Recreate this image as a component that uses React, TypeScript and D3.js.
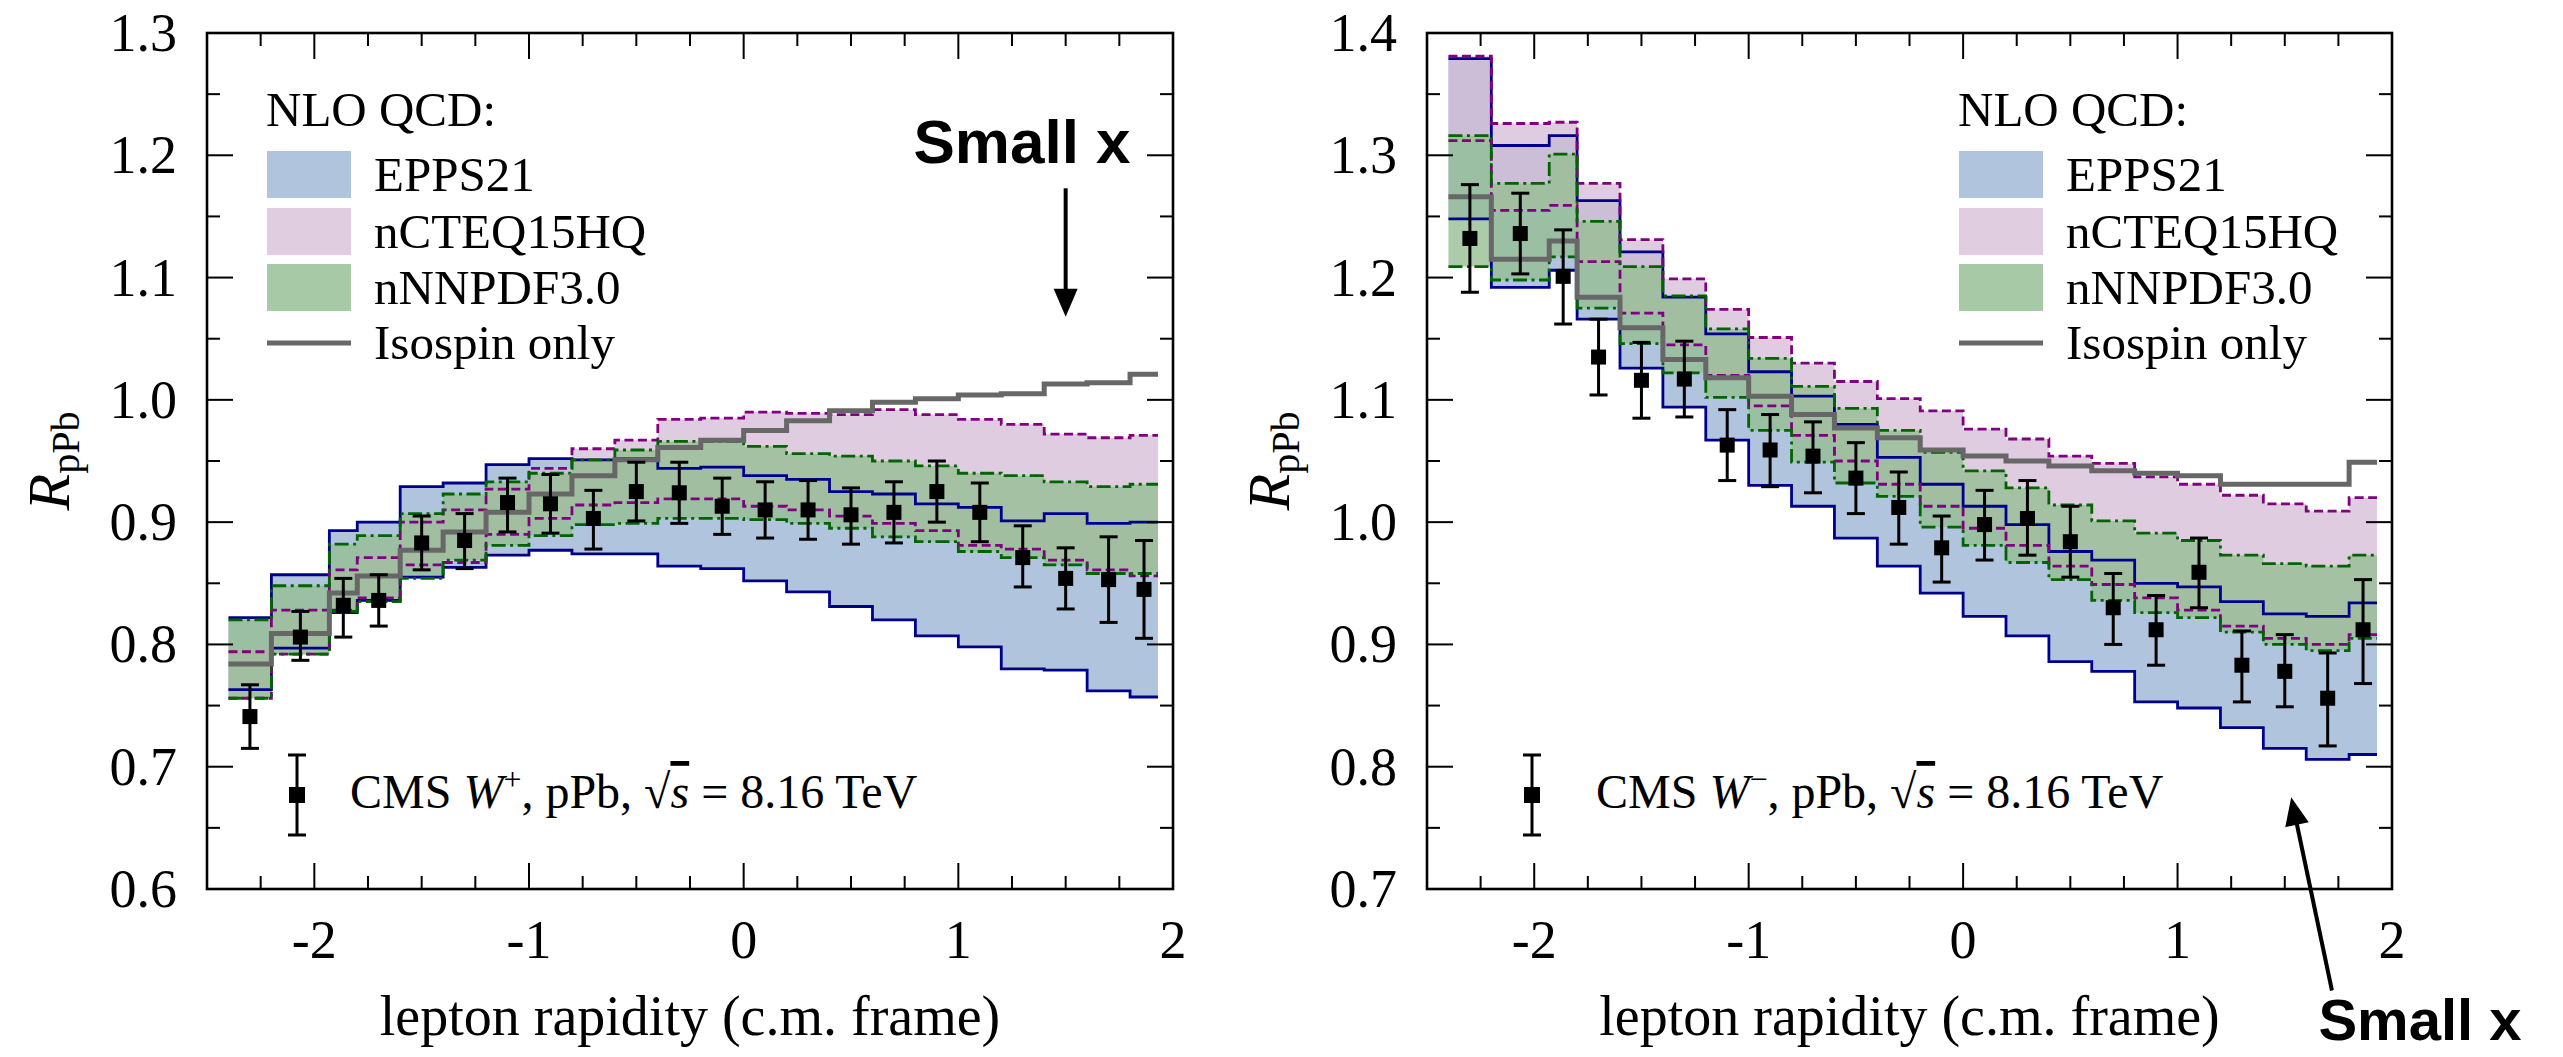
import React from "react";
import * as d3 from "d3";

// ---------- DATA ----------
const EDGES = [-2.4, -2.2, -1.93, -1.8, -1.6, -1.4, -1.2, -1.0, -0.8, -0.6, -0.4, -0.2, 0.0, 0.2, 0.4, 0.6, 0.8, 1.0, 1.2, 1.4, 1.6, 1.8, 1.93];
const DATA_X = [-2.3, -2.065, -1.865, -1.7, -1.5, -1.3, -1.1, -0.9, -0.7, -0.5, -0.3, -0.1, 0.1, 0.3, 0.5, 0.7, 0.9, 1.1, 1.3, 1.5, 1.7, 1.865];
const X_TICKS = [-2, -1, 0, 1, 2];

// W+ panel
const WP_EPPS_HI = [0.822, 0.857, 0.893, 0.900, 0.929, 0.932, 0.947, 0.952, 0.951, 0.952, 0.944, 0.945, 0.938, 0.935, 0.925, 0.923, 0.915, 0.912, 0.901, 0.907, 0.899, 0.900];
const WP_EPPS_LO = [0.763, 0.797, 0.826, 0.836, 0.855, 0.863, 0.873, 0.877, 0.874, 0.874, 0.864, 0.862, 0.852, 0.843, 0.831, 0.820, 0.807, 0.798, 0.780, 0.779, 0.762, 0.757];
const WP_NCTEQ_HI = [0.794, 0.828, 0.861, 0.871, 0.900, 0.910, 0.927, 0.944, 0.960, 0.967, 0.984, 0.985, 0.990, 0.989, 0.988, 0.992, 0.988, 0.984, 0.980, 0.972, 0.969, 0.971];
const WP_NCTEQ_LO = [0.756, 0.792, 0.828, 0.838, 0.865, 0.867, 0.890, 0.903, 0.914, 0.916, 0.919, 0.919, 0.913, 0.910, 0.905, 0.899, 0.893, 0.881, 0.878, 0.869, 0.861, 0.856];
const WP_NNNPDF_HI = [0.820, 0.848, 0.882, 0.889, 0.907, 0.923, 0.933, 0.940, 0.951, 0.959, 0.966, 0.966, 0.962, 0.956, 0.954, 0.950, 0.946, 0.940, 0.938, 0.933, 0.929, 0.931];
const WP_NNNPDF_LO = [0.756, 0.792, 0.827, 0.835, 0.854, 0.869, 0.881, 0.889, 0.898, 0.899, 0.903, 0.903, 0.902, 0.899, 0.895, 0.888, 0.884, 0.876, 0.871, 0.865, 0.858, 0.858];
const WP_ISO = [0.784, 0.809, 0.842, 0.856, 0.877, 0.892, 0.908, 0.923, 0.938, 0.951, 0.961, 0.967, 0.975, 0.983, 0.991, 0.998, 1.001, 1.004, 1.005, 1.013, 1.014, 1.021];
const WP_DATA = [0.741, 0.806, 0.832, 0.836, 0.883, 0.885, 0.916, 0.915, 0.903, 0.925, 0.924, 0.913, 0.910, 0.910, 0.906, 0.908, 0.925, 0.908, 0.871, 0.854, 0.853, 0.845];
const WP_DATA_HI = [0.767, 0.827, 0.854, 0.857, 0.905, 0.907, 0.936, 0.939, 0.926, 0.949, 0.949, 0.936, 0.933, 0.934, 0.928, 0.933, 0.950, 0.932, 0.897, 0.879, 0.888, 0.885];
const WP_DATA_LO = [0.715, 0.787, 0.806, 0.815, 0.861, 0.862, 0.892, 0.891, 0.878, 0.901, 0.899, 0.890, 0.887, 0.886, 0.882, 0.883, 0.900, 0.884, 0.847, 0.829, 0.818, 0.805];

// W- panel
const WM_EPPS_HI = [1.379, 1.308, 1.316, 1.263, 1.221, 1.184, 1.154, 1.123, 1.103, 1.080, 1.053, 1.031, 1.013, 0.998, 0.976, 0.969, 0.950, 0.947, 0.935, 0.925, 0.923, 0.934];
const WM_EPPS_LO = [1.248, 1.192, 1.206, 1.166, 1.126, 1.094, 1.067, 1.030, 1.013, 0.987, 0.964, 0.942, 0.923, 0.907, 0.886, 0.878, 0.853, 0.848, 0.832, 0.815, 0.806, 0.810];
const WM_NCTEQ_HI = [1.381, 1.326, 1.327, 1.277, 1.231, 1.199, 1.174, 1.151, 1.130, 1.115, 1.101, 1.091, 1.076, 1.068, 1.054, 1.048, 1.037, 1.031, 1.022, 1.015, 1.009, 1.020];
const WM_NCTEQ_LO = [1.312, 1.255, 1.259, 1.213, 1.171, 1.145, 1.120, 1.095, 1.071, 1.050, 1.031, 1.013, 0.995, 0.981, 0.964, 0.949, 0.938, 0.928, 0.915, 0.905, 0.900, 0.908];
const WM_NNNPDF_HI = [1.316, 1.277, 1.301, 1.246, 1.209, 1.185, 1.158, 1.134, 1.111, 1.093, 1.075, 1.057, 1.042, 1.028, 1.014, 1.001, 0.991, 0.985, 0.973, 0.966, 0.964, 0.973];
const WM_NNNPDF_LO = [1.209, 1.198, 1.217, 1.175, 1.146, 1.122, 1.102, 1.075, 1.049, 1.032, 1.021, 0.996, 0.981, 0.967, 0.953, 0.936, 0.926, 0.922, 0.910, 0.900, 0.895, 0.905];
const WM_ISO = [1.266, 1.215, 1.230, 1.184, 1.159, 1.133, 1.118, 1.103, 1.088, 1.077, 1.069, 1.059, 1.054, 1.050, 1.046, 1.042, 1.040, 1.038, 1.031, 1.031, 1.031, 1.049];
const WM_DATA = [1.232, 1.236, 1.201, 1.135, 1.116, 1.117, 1.063, 1.059, 1.054, 1.036, 1.012, 0.979, 0.998, 1.003, 0.984, 0.930, 0.912, 0.959, 0.883, 0.878, 0.856, 0.912];
const WM_DATA_HI = [1.276, 1.269, 1.239, 1.166, 1.147, 1.148, 1.092, 1.088, 1.082, 1.065, 1.041, 1.005, 1.026, 1.034, 1.013, 0.958, 0.940, 0.987, 0.911, 0.908, 0.893, 0.953];
const WM_DATA_LO = [1.188, 1.203, 1.162, 1.104, 1.085, 1.086, 1.034, 1.029, 1.024, 1.007, 0.982, 0.951, 0.969, 0.973, 0.955, 0.900, 0.883, 0.930, 0.853, 0.849, 0.817, 0.868];

const LEGEND_ITEMS = ["EPPS21", "nCTEQ15HQ", "nNNPDF3.0"];

// ---------- STYLE ----------
const SERIF = "'Liberation Serif', 'Times New Roman', serif";
const SANS = "'Liberation Sans', Arial, sans-serif";
const PY0 = 33;
const PY1 = 889;
const EPPS_LINE = "#00008b";
const NCTEQ_LINE = "#800080";
const NNNPDF_LINE = "#006400";
const ISO_COLOR = "#676767";

type Pt = [number, number];

function stepPts(vals: number[]): Pt[] {
  const out: Pt[] = [];
  vals.forEach((v, i) => {
    out.push([EDGES[i], v]);
    out.push([EDGES[i + 1], v]);
  });
  return out;
}

function bandPts(hi: number[], lo: number[]) {
  const out: { x: number; hi: number; lo: number }[] = [];
  hi.forEach((h, i) => {
    out.push({ x: EDGES[i], hi: h, lo: lo[i] });
    out.push({ x: EDGES[i + 1], hi: h, lo: lo[i] });
  });
  return out;
}

type PanelProps = {
  px0: number;
  px1: number;
  yDomain: [number, number];
  epps: [number[], number[]];
  ncteq: [number[], number[]];
  nnnpdf: [number[], number[]];
  iso: number[];
  data: number[];
  dataHi: number[];
  dataLo: number[];
  legendX: number;
  cmsMarkerX: number;
  cmsTextX: number;
  charge: string;
};

function Panel(p: PanelProps) {
  const x = d3.scaleLinear().domain([-2.5, 2]).range([p.px0, p.px1]);
  const y = d3.scaleLinear().domain(p.yDomain).range([PY1, PY0]);
  const line = d3.line<Pt>().x((d) => x(d[0])).y((d) => y(d[1]));
  const area = d3
    .area<{ x: number; hi: number; lo: number }>()
    .x((d) => x(d.x))
    .y0((d) => y(d.lo))
    .y1((d) => y(d.hi));

  const xTicks = d3.range(-2.5, 2.0001, 0.25);
  const yTicks = d3.range(Math.round(p.yDomain[0] * 20), Math.round(p.yDomain[1] * 20) + 1).map((k) => k / 20);
  const yLabels = d3.range(Math.round(p.yDomain[0] * 10), Math.round(p.yDomain[1] * 10) + 1).map((k) => k / 10);
  const isMajorX = (t: number) => Math.abs(t - Math.round(t)) < 1e-6;
  const isMajorY = (t: number) => Math.abs(t * 10 - Math.round(t * 10)) < 1e-6;
  const MAJ = 26;
  const MIN = 13;

  const bands = [
    { hi: p.epps[0], lo: p.epps[1], fill: "#b0c4de", op: 1, stroke: EPPS_LINE, dash: "none" },
    { hi: p.ncteq[0], lo: p.ncteq[1], fill: "rgb(214,188,214)", op: 0.76, stroke: NCTEQ_LINE, dash: "9,4.5" },
    { hi: p.nnnpdf[0], lo: p.nnnpdf[1], fill: "rgb(150,190,147)", op: 0.8, stroke: NNNPDF_LINE, dash: "14,4.5,3,4.5" },
  ];

  const legendFills = ["#b0c4de", "rgb(224,205,224)", "rgb(168,201,165)"];
  const rowY = [151, 208, 264];
  const sw = 84;

  return (
    <g>
      {/* bands */}
      {bands.map((b, i) => (
        <path key={"f" + i} d={area(bandPts(b.hi, b.lo)) || ""} fill={b.fill} fillOpacity={b.op} stroke="none" />
      ))}
      {bands.map((b, i) => (
        <g key={"l" + i}>
          <path d={line(stepPts(b.hi)) || ""} fill="none" stroke={b.stroke} strokeWidth={2.8} strokeDasharray={b.dash} />
          <path d={line(stepPts(b.lo)) || ""} fill="none" stroke={b.stroke} strokeWidth={2.8} strokeDasharray={b.dash} />
        </g>
      ))}
      <path d={line(stepPts(p.iso)) || ""} fill="none" stroke={ISO_COLOR} strokeWidth={5} />

      {/* data */}
      {p.data.map((v, i) => {
        const cx = x(DATA_X[i]);
        return (
          <g key={"d" + i}>
            <line x1={cx} x2={cx} y1={y(p.dataHi[i])} y2={y(p.dataLo[i])} stroke="#000" strokeWidth={3} />
            <line x1={cx - 9} x2={cx + 9} y1={y(p.dataHi[i])} y2={y(p.dataHi[i])} stroke="#000" strokeWidth={3} />
            <line x1={cx - 9} x2={cx + 9} y1={y(p.dataLo[i])} y2={y(p.dataLo[i])} stroke="#000" strokeWidth={3} />
            <rect x={cx - 7.5} y={y(v) - 7.5} width={15} height={15} fill="#000" />
          </g>
        );
      })}

      {/* frame */}
      <rect x={p.px0} y={PY0} width={p.px1 - p.px0} height={PY1 - PY0} fill="none" stroke="#000" strokeWidth={2.6} />
      {xTicks.map((t, i) => {
        const L = isMajorX(t) ? MAJ : MIN;
        return (
          <g key={"xt" + i}>
            <line x1={x(t)} x2={x(t)} y1={PY1} y2={PY1 - L} stroke="#000" strokeWidth={2} />
            <line x1={x(t)} x2={x(t)} y1={PY0} y2={PY0 + L} stroke="#000" strokeWidth={2} />
          </g>
        );
      })}
      {yTicks.map((t, i) => {
        const L = isMajorY(t) ? MAJ : MIN;
        return (
          <g key={"yt" + i}>
            <line x1={p.px0} x2={p.px0 + L} y1={y(t)} y2={y(t)} stroke="#000" strokeWidth={2} />
            <line x1={p.px1} x2={p.px1 - L} y1={y(t)} y2={y(t)} stroke="#000" strokeWidth={2} />
          </g>
        );
      })}
      {X_TICKS.map((t) => (
        <text key={"xl" + t} x={x(t)} y={958} textAnchor="middle" fontFamily={SERIF} fontSize={54}>
          {String(t)}
        </text>
      ))}
      {yLabels.map((t) => (
        <text key={"yl" + t} x={p.px0 - 30} y={y(t) + 18} textAnchor="end" fontFamily={SERIF} fontSize={54}>
          {d3.format(".1f")(t)}
        </text>
      ))}
      <text x={(p.px0 + p.px1) / 2} y={1035} textAnchor="middle" fontFamily={SERIF} fontSize={56}>
        lepton rapidity (c.m. frame)
      </text>
      <text transform={`translate(${p.px0 - 138},${(PY0 + PY1) / 2}) rotate(-90)`} textAnchor="middle" fontFamily={SERIF} fontSize={60}>
        <tspan fontStyle="italic">R</tspan>
        <tspan fontSize={40} dy={10}>pPb</tspan>
      </text>

      {/* legend */}
      <text x={p.legendX} y={126} fontFamily={SERIF} fontSize={49}>NLO QCD:</text>
      {LEGEND_ITEMS.map((name, i) => (
        <g key={"lg" + i}>
          <rect x={p.legendX + 1} y={rowY[i]} width={sw} height={47} fill={legendFills[i]} />
          <text x={p.legendX + 108} y={rowY[i] + 40} fontFamily={SERIF} fontSize={49}>{name}</text>
        </g>
      ))}
      <line x1={p.legendX + 1} x2={p.legendX + 1 + sw} y1={343} y2={343} stroke={ISO_COLOR} strokeWidth={5} />
      <text x={p.legendX + 108} y={359} fontFamily={SERIF} fontSize={49}>Isospin only</text>

      {/* CMS data legend */}
      <line x1={p.cmsMarkerX} x2={p.cmsMarkerX} y1={755} y2={835} stroke="#000" strokeWidth={3} />
      <line x1={p.cmsMarkerX - 9} x2={p.cmsMarkerX + 9} y1={755} y2={755} stroke="#000" strokeWidth={3} />
      <line x1={p.cmsMarkerX - 9} x2={p.cmsMarkerX + 9} y1={835} y2={835} stroke="#000" strokeWidth={3} />
      <rect x={p.cmsMarkerX - 8} y={787} width={16} height={16} fill="#000" />
      <text x={p.cmsTextX} y={808} fontFamily={SERIF} fontSize={48}>
        CMS <tspan fontStyle="italic">W</tspan>
        <tspan fontSize={32} dy={-18}>{p.charge}</tspan>
        <tspan dy={18}>, pPb, √</tspan>
        <tspan fontStyle="italic" textDecoration="overline">s</tspan>
        <tspan> = 8.16 TeV</tspan>
      </text>
    </g>
  );
}

function Arrow({ x1, y1, x2, y2 }: { x1: number; y1: number; x2: number; y2: number }) {
  const dx = x2 - x1;
  const dy = y2 - y1;
  const len = Math.hypot(dx, dy);
  const ux = dx / len;
  const uy = dy / len;
  const hl = 28;
  const hw = 12;
  const bx = x2 - ux * hl;
  const by = y2 - uy * hl;
  const px = -uy;
  const py = ux;
  return (
    <g>
      <line x1={x1} y1={y1} x2={bx + ux * 2} y2={by + uy * 2} stroke="#000" strokeWidth={4} />
      <polygon points={`${x2},${y2} ${bx + px * hw},${by + py * hw} ${bx - px * hw},${by - py * hw}`} fill="#000" />
    </g>
  );
}

export default function App() {
  const xL = d3.scaleLinear().domain([-2.5, 2]).range([207, 1173]);
  const yL = d3.scaleLinear().domain([0.6, 1.3]).range([PY1, PY0]);
  const xR = d3.scaleLinear().domain([-2.5, 2]).range([1427, 2392]);
  const yR = d3.scaleLinear().domain([0.7, 1.4]).range([PY1, PY0]);
  return (
    <svg
      width={2563}
      height={1057}
      viewBox="0 0 2563 1057"
      style={{ position: "absolute", left: 0, top: 0, background: "#fff" }}
    >
      <rect x={0} y={0} width={2563} height={1057} fill="#fff" />
      <Panel
        px0={207}
        px1={1173}
        yDomain={[0.6, 1.3]}
        epps={[WP_EPPS_HI, WP_EPPS_LO]}
        ncteq={[WP_NCTEQ_HI, WP_NCTEQ_LO]}
        nnnpdf={[WP_NNNPDF_HI, WP_NNNPDF_LO]}
        iso={WP_ISO}
        data={WP_DATA}
        dataHi={WP_DATA_HI}
        dataLo={WP_DATA_LO}
        legendX={266}
        cmsMarkerX={297}
        cmsTextX={350}
        charge="+"
      />
      <Panel
        px0={1427}
        px1={2392}
        yDomain={[0.7, 1.4]}
        epps={[WM_EPPS_HI, WM_EPPS_LO]}
        ncteq={[WM_NCTEQ_HI, WM_NCTEQ_LO]}
        nnnpdf={[WM_NNNPDF_HI, WM_NNNPDF_LO]}
        iso={WM_ISO}
        data={WM_DATA}
        dataHi={WM_DATA_HI}
        dataLo={WM_DATA_LO}
        legendX={1958}
        cmsMarkerX={1532}
        cmsTextX={1596}
        charge="−"
      />
      {/* Small x annotations */}
      <text x={1022} y={163} textAnchor="middle" fontFamily={SANS} fontWeight="bold" fontSize={62}>Small x</text>
      <Arrow x1={xL(1.5)} y1={yL(1.173)} x2={xL(1.5)} y2={yL(1.068)} />
      <text x={2420} y={1040} textAnchor="middle" fontFamily={SANS} fontWeight="bold" fontSize={58}>Small x</text>
      <Arrow x1={xR(1.72)} y1={yR(0.617)} x2={xR(1.53)} y2={yR(0.775)} />
    </svg>
  );
}
